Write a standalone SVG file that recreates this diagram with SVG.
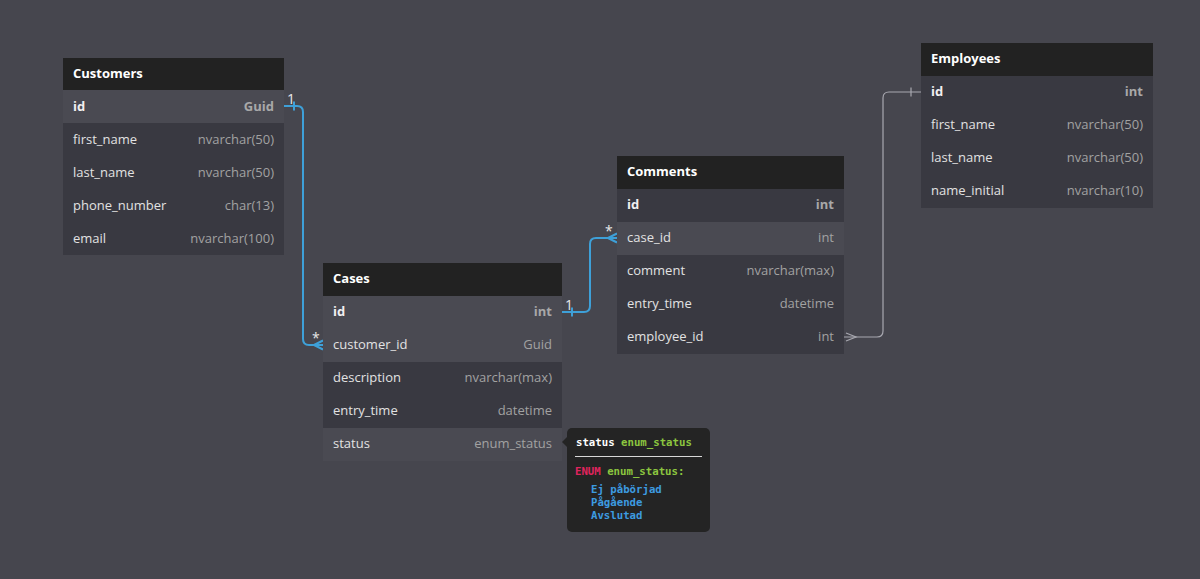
<svg xmlns="http://www.w3.org/2000/svg" width="1200" height="579" viewBox="0 0 1200 579">
  <defs>
    <style>
      .bg { fill: #46464e; }
      .head { fill: #222222; }
      .row { fill: #393941; }
      .hl { fill: #4a4a52; }
      .title { font-family: "Open Sans", "Liberation Sans", sans-serif; font-size: 13px; font-weight: bold; fill: #ffffff; }
      .fname { font-family: "Open Sans", "Liberation Sans", sans-serif; font-size: 13px; fill: #e2e2e2; }
      .ftype { font-family: "Open Sans", "Liberation Sans", sans-serif; font-size: 13px; fill: #a2a2a2; text-anchor: end; }
      .pk { font-weight: bold; fill: #f0f0f0; }
      .pkt { font-weight: bold; fill: #a8a8a8; }
      .rel { fill: none; stroke: #3ea0d8; stroke-width: 2; }
      .rel-dim { fill: none; stroke: #a8a8b0; stroke-width: 1.2; }
      .card { font-family: "Open Sans", "Liberation Sans", sans-serif; font-size: 14px; fill: #e8e8e8; }
      .mono { font-family: "DejaVu Sans Mono", "Liberation Mono", monospace; font-size: 10.7px; font-weight: bold; }
    </style>
  </defs>

  <rect class="bg" x="0" y="0" width="1200" height="579"/>

  <!-- relationships -->
  <g id="connectors">
    <!-- Customers.id 1 -> * Cases.customer_id -->
    <path class="rel" d="M284,106 H297 Q303,106 303,112 V339 Q303,345 309,345 H323"/>
    <path class="rel" d="M294,101.5 V110.5"/>
    <path class="rel" d="M314,345 L323,340.5 M314,345 L323,349.5"/>
    <text class="card" x="287" y="104">1</text>
    <text class="card" x="312" y="343">*</text>

    <!-- Cases.id 1 -> * Comments.case_id -->
    <path class="rel" d="M562,312 H584 Q590,312 590,306 V244 Q590,238 596,238 H617"/>
    <path class="rel" d="M572,307.5 V316.5"/>
    <path class="rel" d="M608,238 L617,233.5 M608,238 L617,242.5"/>
    <text class="card" x="565" y="310">1</text>
    <text class="card" x="605" y="236">*</text>

    <!-- Comments.employee_id * -> 1 Employees.id -->
    <path class="rel-dim" d="M844,337 H877 Q883,337 883,331 V98 Q883,92 889,92 H921"/>
    <path class="rel-dim" d="M911,87.5 V96.5"/>
    <path class="rel-dim" d="M846,333 L856,337 L846,341"/>
  </g>

  <!-- Customers -->
  <g id="customers">
    <rect class="head" x="63" y="58" width="221" height="32"/>
    <text class="title" x="73" y="78">Customers</text>
    <rect class="hl" x="63" y="90" width="221" height="33"/>
    <rect class="row" x="63" y="123" width="221" height="132"/>
    <text class="fname pk" x="73" y="111">id</text><text class="ftype pkt" x="274" y="111">Guid</text>
    <text class="fname" x="73" y="144">first_name</text><text class="ftype" x="274" y="144">nvarchar(50)</text>
    <text class="fname" x="73" y="177">last_name</text><text class="ftype" x="274" y="177">nvarchar(50)</text>
    <text class="fname" x="73" y="210">phone_number</text><text class="ftype" x="274" y="210">char(13)</text>
    <text class="fname" x="73" y="243">email</text><text class="ftype" x="274" y="243">nvarchar(100)</text>
  </g>

  <!-- Cases -->
  <g id="cases">
    <rect class="head" x="323" y="263" width="239" height="33"/>
    <text class="title" x="333" y="283">Cases</text>
    <rect class="hl" x="323" y="296" width="239" height="66"/>
    <rect class="row" x="323" y="362" width="239" height="66"/>
    <rect class="hl" x="323" y="428" width="239" height="33"/>
    <text class="fname pk" x="333" y="316">id</text><text class="ftype pkt" x="552" y="316">int</text>
    <text class="fname" x="333" y="349">customer_id</text><text class="ftype" x="552" y="349">Guid</text>
    <text class="fname" x="333" y="382">description</text><text class="ftype" x="552" y="382">nvarchar(max)</text>
    <text class="fname" x="333" y="415">entry_time</text><text class="ftype" x="552" y="415">datetime</text>
    <text class="fname" x="333" y="448">status</text><text class="ftype" x="552" y="448">enum_status</text>
  </g>

  <!-- Comments -->
  <g id="comments">
    <rect class="head" x="617" y="156" width="227" height="33"/>
    <text class="title" x="627" y="176">Comments</text>
    <rect class="row" x="617" y="189" width="227" height="165"/>
    <rect class="hl" x="617" y="222" width="227" height="33"/>
    <text class="fname pk" x="627" y="209">id</text><text class="ftype pkt" x="834" y="209">int</text>
    <text class="fname" x="627" y="242">case_id</text><text class="ftype" x="834" y="242">int</text>
    <text class="fname" x="627" y="275">comment</text><text class="ftype" x="834" y="275">nvarchar(max)</text>
    <text class="fname" x="627" y="308">entry_time</text><text class="ftype" x="834" y="308">datetime</text>
    <text class="fname" x="627" y="341">employee_id</text><text class="ftype" x="834" y="341">int</text>
  </g>

  <!-- Employees -->
  <g id="employees">
    <rect class="head" x="921" y="43" width="232" height="33"/>
    <text class="title" x="931" y="63">Employees</text>
    <rect class="row" x="921" y="76" width="232" height="132"/>
    <text class="fname pk" x="931" y="96">id</text><text class="ftype pkt" x="1143" y="96">int</text>
    <text class="fname" x="931" y="129">first_name</text><text class="ftype" x="1143" y="129">nvarchar(50)</text>
    <text class="fname" x="931" y="162">last_name</text><text class="ftype" x="1143" y="162">nvarchar(50)</text>
    <text class="fname" x="931" y="195">name_initial</text><text class="ftype" x="1143" y="195">nvarchar(10)</text>
  </g>

  <!-- enum tooltip for Cases.status -->
  <g id="status-tooltip">
    <path d="M567,437 L562,442 L567,447 Z" fill="#242424"/>
    <rect x="567" y="428" width="143" height="104" rx="5" fill="#242424"/>
    <text class="mono" x="576" y="446"><tspan fill="#ffffff">status</tspan> <tspan fill="#8cc63f">enum_status</tspan></text>
    <line x1="575" y1="456.5" x2="702" y2="456.5" stroke="#d8d8d8" stroke-width="1"/>
    <text class="mono" x="575" y="475"><tspan fill="#e0245e">ENUM</tspan> <tspan fill="#8cc63f">enum_status:</tspan></text>
    <text class="mono" fill="#3d9be0" x="591" y="493">Ej påbörjad</text>
    <text class="mono" fill="#3d9be0" x="591" y="506">Pågående</text>
    <text class="mono" fill="#3d9be0" x="591" y="519">Avslutad</text>
  </g>
</svg>
